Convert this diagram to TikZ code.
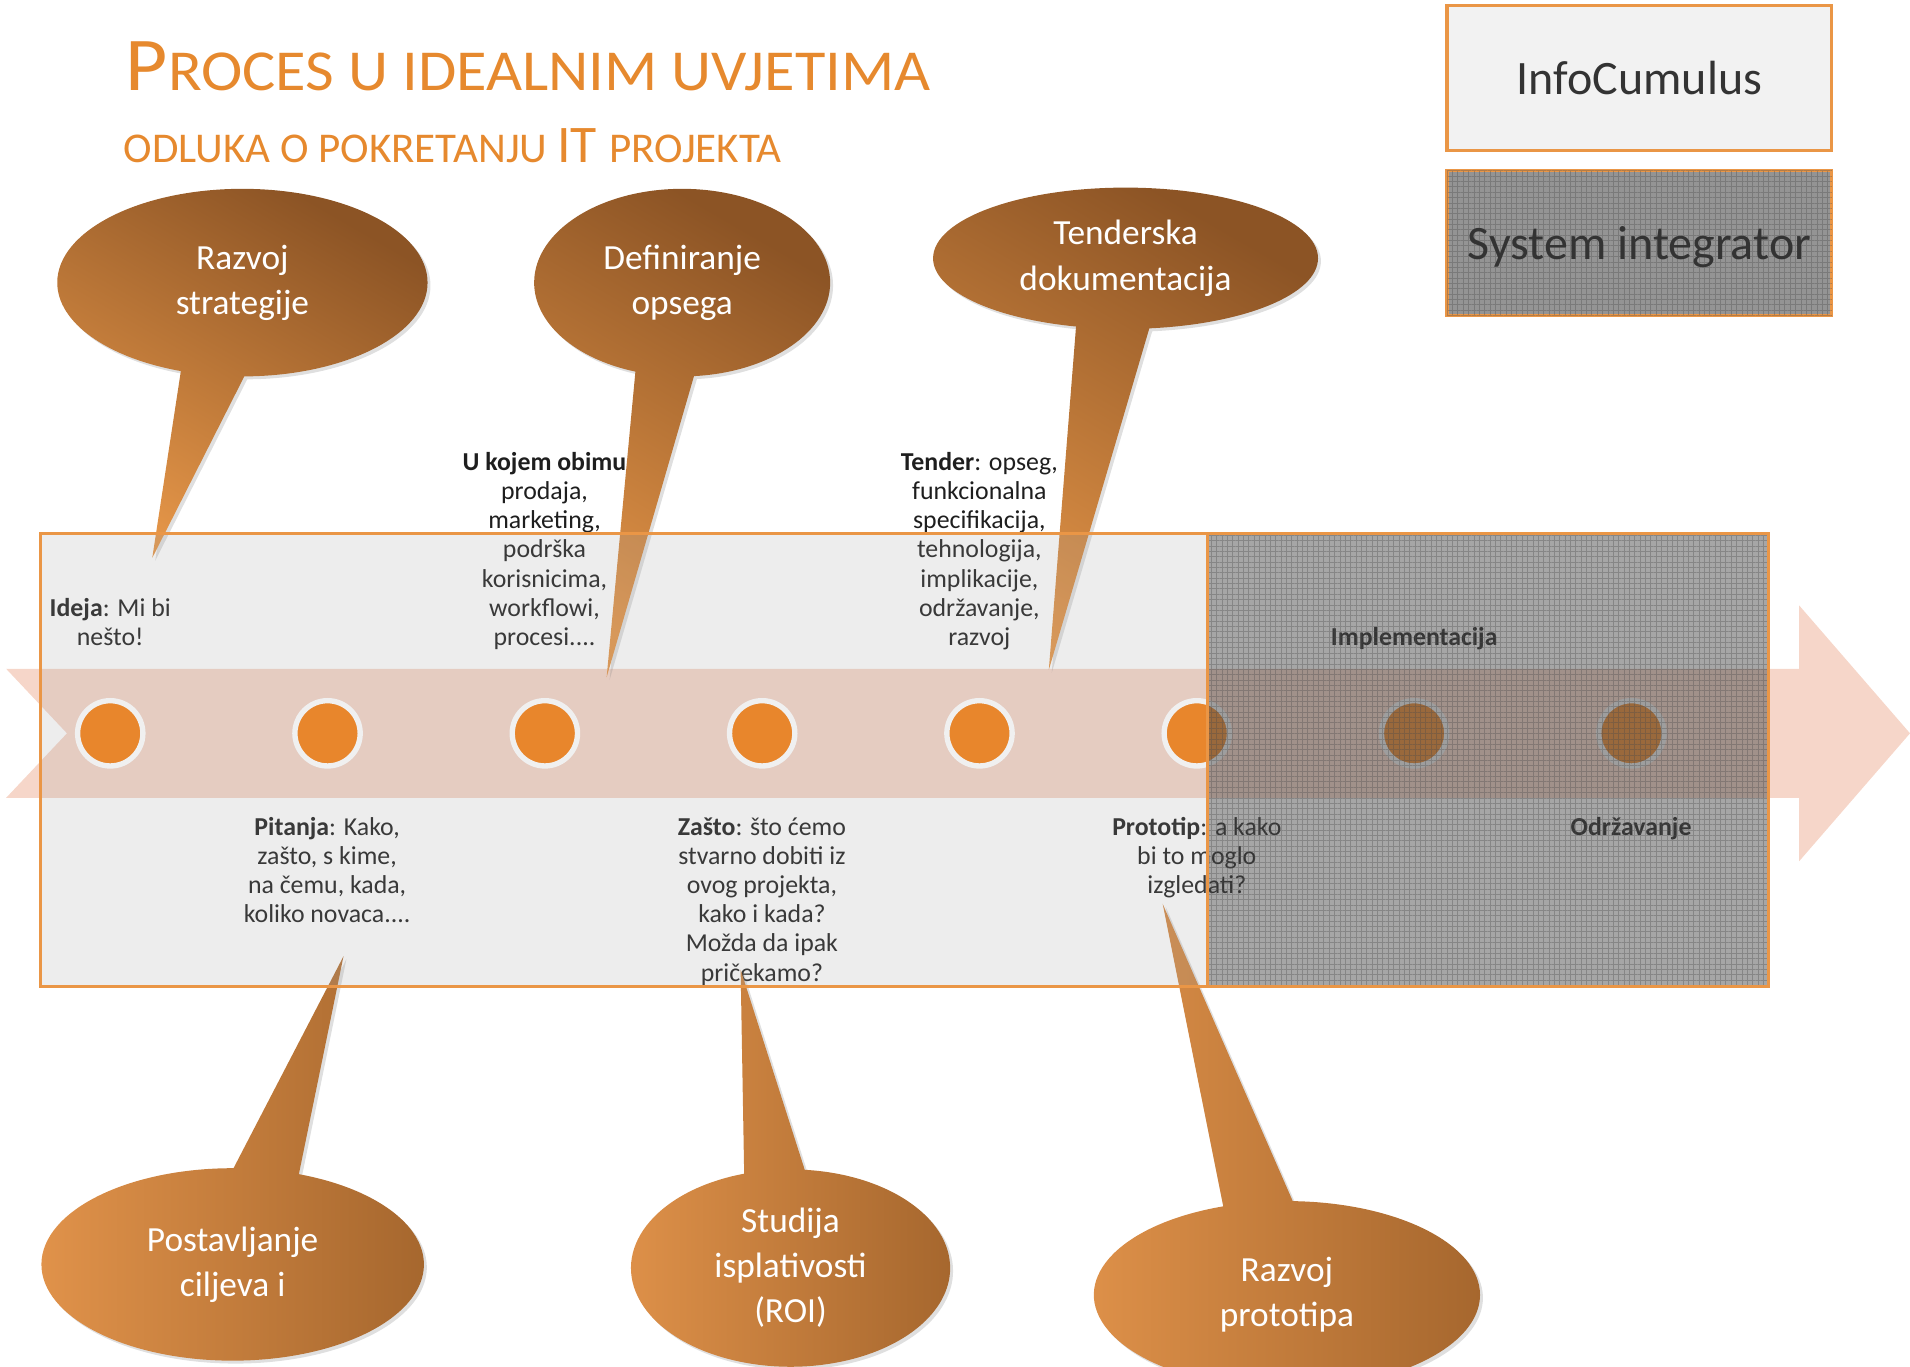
\documentclass[tikz,border=0pt]{standalone}
\usepackage{fontspec}
\setmainfont{Carlito}
\usetikzlibrary{shapes.callouts,shadows,patterns.meta}
\definecolor{ttl}{RGB}{230,137,46}
\definecolor{peach}{RGB}{246,214,201}
\definecolor{brd}{RGB}{234,150,70}
\definecolor{dotc}{RGB}{232,134,44}
\definecolor{tx}{RGB}{30,30,30}
\definecolor{cdark}{RGB}{140,84,37}
\definecolor{clight}{RGB}{228,149,72}
\definecolor{bleft}{RGB}{224,146,74}
\definecolor{bright}{RGB}{166,103,46}
\definecolor{lgov}{RGB}{165,165,165}
\definecolor{dkov}{RGB}{77,77,77}
\definecolor{legtx}{RGB}{51,51,51}
\definecolor{leglight}{RGB}{242,242,242}
\definecolor{legdark}{RGB}{148,148,148}
\begin{document}
\begin{tikzpicture}[x=0.5pt,y=-0.5pt,
  tb/.style={align=center,inner sep=0,text=tx,font=\fontsize{10.6}{12}\selectfont},
  co/.style={ellipse callout,inner sep=0,text=white,align=center,font=\fontsize{14.5}{18.5}\selectfont,drop shadow={opacity=0.25,shadow xshift=1.2pt,shadow yshift=-1.2pt}},
  cotop/.style={co,top color=cdark,bottom color=clight,shading angle=-30},
  cobot/.style={co,left color=bleft,right color=bright},
  dotn/.style={circle,inner sep=0,minimum size=26.8pt,fill=dotc,draw=white!94!black,line width=2.2pt},
  legbox/.style={draw=brd,line width=1.3pt,inner sep=0,minimum width=158pt,minimum height=59.5pt,text=legtx,font=\fontsize{19.7}{22}\selectfont},
  ttlnode/.style={anchor=base west,inner sep=0,text=ttl}]
\useasboundingbox (0,0) rectangle (1568,1121.4);

% titles
\node[ttlnode] (t1) at (103,74.5) {\scalebox{1.075}[1]{\fontsize{31.2}{32}\selectfont P\fontsize{23.8}{24}\selectfont ROCES U IDEALNIM UVJETIMA}};
\node[ttlnode] (t2) at (101,133.3) {\scalebox{1.015}[1]{\fontsize{17.4}{18}\selectfont ODLUKA O POKRETANJU \fontsize{21.7}{22}\selectfont IT \fontsize{17.4}{18}\selectfont PROJEKTA}};

% legend
\node[legbox,fill=leglight] (leg1) at (1345.85,63.85) {InfoCumulus};
\node[legbox,fill=legdark,postaction={opacity=0.35,pattern={Hatch[distance=2.2pt,line width=0.3pt]},pattern color=black!70}] (leg2) at (1345.85,199.5) {\raisebox{-1.5pt}[\height][\depth]{System integrator}};

% big arrow
\fill[peach] (5,549) -- (1477,549) -- (1477,497) -- (1568,602) -- (1477,707) -- (1477,655) -- (5,655) -- (55,602) -- cycle;

% texts
\node[tb,anchor=base] (ideja) at (90.5,530) {\textbf{Ideja}: Mi bi\\nešto!};
\node[tb,anchor=base] (obim) at (447,530) {\textbf{U kojem obimu}\\prodaja,\\marketing,\\podrška\\korisnicima,\\workflowi,\\procesi....};
\node[tb,anchor=base] (tender) at (804,530) {\textbf{Tender}: opseg,\\funkcionalna\\specifikacija,\\tehnologija,\\implikacije,\\održavanje,\\razvoj};
\node[tb,anchor=base] (pitanja) at (268.5,757.5) {\textbf{Pitanja}: Kako,\\zašto, s kime,\\na čemu, kada,\\koliko novaca....};
\node[tb,anchor=base] (zasto) at (625.5,805.5) {\textbf{Zašto}: što ćemo\\stvarno dobiti iz\\ovog projekta,\\kako i kada?\\Možda da ipak\\pričekamo?};
\node[tb,anchor=base] (proto) at (982.5,733.5) {\textbf{Prototip}: a kako\\bi to moglo\\izgledati?};
\node[tb,anchor=base] (impl) at (1161,530) {\textbf{Implementacija}};
\node[tb,anchor=base] (odrz) at (1339,685.5) {\textbf{Održavanje}};

% callouts
\node[cotop,minimum width=152pt,minimum height=77pt,callout pointer arc=20,callout absolute pointer={(125,458)}] (c1) at (199,232) {Razvoj\\strategije};
\node[cotop,minimum width=121.5pt,minimum height=77pt,callout pointer arc=23,callout absolute pointer={(498,556)}] (c2) at (560,232) {Definiranje\\opsega};
\node[cotop,minimum width=158pt,minimum height=58pt,callout pointer arc=22,callout absolute pointer={(861,550)}] (c3) at (924,212) {Tenderska\\dokumentacija};
\node[cobot,minimum width=157pt,minimum height=79pt,callout pointer arc=20,callout absolute pointer={(282,785)}] (c4) at (191,1038) {Postavljanje\\ciljeva i};
\node[cobot,minimum width=131pt,minimum height=81pt,callout pointer arc=22,callout absolute pointer={(608,796)}] (c5) at (649,1041) {Studija\\isplativosti\\(ROI)};
\node[cobot,minimum width=158.5pt,minimum height=77pt,callout pointer arc=21,callout absolute pointer={(954.5,742)}] (c6) at (1056.5,1063) {Razvoj\\prototipa};

% light overlay
\fill[lgov,opacity=0.2] (33,438) rectangle (991,810);

% dots
\foreach \i in {0,...,7} \node[dotn] (d\i) at ({90.5+178.4*\i},602) {};

% dark overlay
\fill[dkov,opacity=0.5] (991,438) rectangle (1451.5,810);
\path[pattern={Hatch[distance=2.2pt,line width=0.3pt]},pattern color=black!70,opacity=0.35] (991,438) rectangle (1451.5,810);

% borders
\draw[brd,line width=1.3pt] (33,438) rectangle (1451.5,810);
\draw[brd,line width=1.3pt] (991,438) -- (991,810);
\end{tikzpicture}
\end{document}
